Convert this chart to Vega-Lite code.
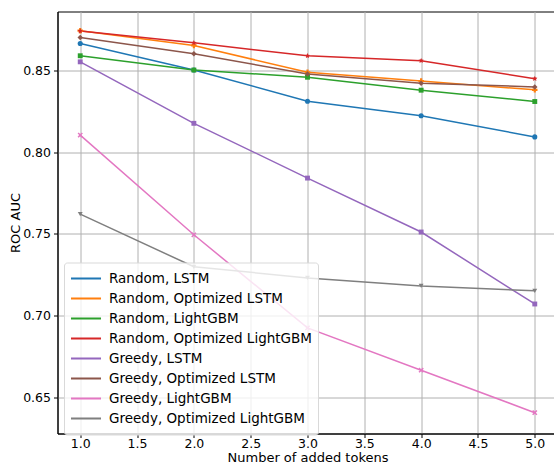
{
  "$schema": "https://vega.github.io/schema/vega-lite/v6.json",
  "width": 500,
  "height": 422,
  "autosize": {"type": "none"},
  "padding": {"left": 57.5, "top": 11.5, "right": 0, "bottom": 31.5},
  "background": "white",
  "config": {
    "view": {"stroke": "black", "strokeWidth": 1},
    "font": "DejaVu Sans",
    "axis": {
      "grid": true,
      "gridColor": "#b0b0b0",
      "gridWidth": 1,
      "domainColor": "black",
      "domainWidth": 1,
      "tickColor": "black",
      "tickSize": 4,
      "labelColor": "black",
      "labelFontSize": 12.5,
      "labelFont": "DejaVu Sans",
      "titleFont": "DejaVu Sans",
      "titleFontSize": 13,
      "titleFontWeight": "normal",
      "titleColor": "black",
      "labelPadding": 2
    }
  },
  "data": {
    "values": [
      {"series": "Random, LSTM", "x": 1, "y": 0.8662},
      {"series": "Random, LSTM", "x": 2, "y": 0.8500},
      {"series": "Random, LSTM", "x": 3, "y": 0.8310},
      {"series": "Random, LSTM", "x": 4, "y": 0.8221},
      {"series": "Random, LSTM", "x": 5, "y": 0.8092},
      {"series": "Random, Optimized LSTM", "x": 1, "y": 0.8740},
      {"series": "Random, Optimized LSTM", "x": 2, "y": 0.8650},
      {"series": "Random, Optimized LSTM", "x": 3, "y": 0.8486},
      {"series": "Random, Optimized LSTM", "x": 4, "y": 0.8433},
      {"series": "Random, Optimized LSTM", "x": 5, "y": 0.8379},
      {"series": "Random, LightGBM", "x": 1, "y": 0.8587},
      {"series": "Random, LightGBM", "x": 2, "y": 0.8500},
      {"series": "Random, LightGBM", "x": 3, "y": 0.8456},
      {"series": "Random, LightGBM", "x": 4, "y": 0.8377},
      {"series": "Random, LightGBM", "x": 5, "y": 0.8308},
      {"series": "Random, Optimized LightGBM", "x": 1, "y": 0.8738},
      {"series": "Random, Optimized LightGBM", "x": 2, "y": 0.8666},
      {"series": "Random, Optimized LightGBM", "x": 3, "y": 0.8587},
      {"series": "Random, Optimized LightGBM", "x": 4, "y": 0.8557},
      {"series": "Random, Optimized LightGBM", "x": 5, "y": 0.8447},
      {"series": "Greedy, LSTM", "x": 1, "y": 0.8550},
      {"series": "Greedy, LSTM", "x": 2, "y": 0.8175},
      {"series": "Greedy, LSTM", "x": 3, "y": 0.7841},
      {"series": "Greedy, LSTM", "x": 4, "y": 0.7512},
      {"series": "Greedy, LSTM", "x": 5, "y": 0.7073},
      {"series": "Greedy, Optimized LSTM", "x": 1, "y": 0.8698},
      {"series": "Greedy, Optimized LSTM", "x": 2, "y": 0.8599},
      {"series": "Greedy, Optimized LSTM", "x": 3, "y": 0.8476},
      {"series": "Greedy, Optimized LSTM", "x": 4, "y": 0.8420},
      {"series": "Greedy, Optimized LSTM", "x": 5, "y": 0.8397},
      {"series": "Greedy, LightGBM", "x": 1, "y": 0.8103},
      {"series": "Greedy, LightGBM", "x": 2, "y": 0.7495},
      {"series": "Greedy, LightGBM", "x": 3, "y": 0.6927},
      {"series": "Greedy, LightGBM", "x": 4, "y": 0.6669},
      {"series": "Greedy, LightGBM", "x": 5, "y": 0.6410},
      {"series": "Greedy, Optimized LightGBM", "x": 1, "y": 0.7621},
      {"series": "Greedy, Optimized LightGBM", "x": 2, "y": 0.7300},
      {"series": "Greedy, Optimized LightGBM", "x": 3, "y": 0.7232},
      {"series": "Greedy, Optimized LightGBM", "x": 4, "y": 0.7183},
      {"series": "Greedy, Optimized LightGBM", "x": 5, "y": 0.7153}
    ]
  },
  "encoding": {
    "x": {
      "field": "x",
      "type": "quantitative",
      "scale": {"domain": [0.8, 5.2], "nice": false, "zero": false},
      "axis": {"values": [1, 1.5, 2, 2.5, 3, 3.5, 4, 4.5, 5], "format": ".1f", "title": "Number of added tokens", "titlePadding": 1, "labelPadding": 0}
    },
    "y": {
      "field": "y",
      "type": "quantitative",
      "scale": {"domain": [0.6283, 0.8857], "nice": false, "zero": false},
      "axis": {"values": [0.65, 0.7, 0.75, 0.8, 0.85], "format": ".2f", "title": "ROC AUC", "titlePadding": 0, "labelPadding": 3}
    },
    "color": {
      "field": "series",
      "type": "nominal",
      "scale": {
        "domain": ["Random, LSTM", "Random, Optimized LSTM", "Random, LightGBM", "Random, Optimized LightGBM", "Greedy, LSTM", "Greedy, Optimized LSTM", "Greedy, LightGBM", "Greedy, Optimized LightGBM"],
        "range": ["#1f77b4", "#ff7f0e", "#2ca02c", "#d62728", "#9467bd", "#8c564b", "#e377c2", "#7f7f7f"]
      },
      "legend": {
        "title": null,
        "orient": "none",
        "legendX": 6.5,
        "legendY": 251,
        "symbolType": "stroke",
        "symbolSize": 900,
        "symbolStrokeWidth": 2,
        "labelFontSize": 13.5,
        "labelFont": "DejaVu Sans",
        "labelColor": "black",
        "labelOffset": 7,
        "labelLimit": 400,
        "clipHeight": 20,
        "rowPadding": 0,
        "padding": 6,
        "fillColor": "rgba(255,255,255,0.8)",
        "strokeColor": "#d9d9d9",
        "cornerRadius": 3
      }
    }
  },
  "layer": [
    {"mark": {"type": "line", "strokeWidth": 1.5}},
    {
      "transform": [{"filter": {"field": "series", "oneOf": ["Random, LSTM"]}}],
      "mark": {"type": "point", "filled": true, "size": 26, "opacity": 1, "shape": "circle"}
    },
    {
      "transform": [{"filter": {"field": "series", "oneOf": ["Random, Optimized LSTM"]}}],
      "mark": {"type": "point", "filled": true, "size": 30, "opacity": 1, "shape": "cross"}
    },
    {
      "transform": [{"filter": {"field": "series", "oneOf": ["Random, LightGBM", "Greedy, LSTM"]}}],
      "mark": {"type": "point", "filled": true, "size": 24, "opacity": 1, "shape": "square"}
    },
    {
      "transform": [{"filter": {"field": "series", "oneOf": ["Random, Optimized LightGBM"]}}],
      "mark": {"type": "point", "filled": true, "size": 30, "opacity": 1, "shape": "M0,-1L0.29,-0.4L0.95,-0.31L0.48,0.15L0.59,0.81L0,0.5L-0.59,0.81L-0.48,0.15L-0.95,-0.31L-0.29,-0.4Z"}
    },
    {
      "transform": [{"filter": {"field": "series", "oneOf": ["Greedy, Optimized LSTM"]}}],
      "mark": {"type": "point", "filled": true, "size": 30, "opacity": 1, "shape": "diamond"}
    },
    {
      "transform": [{"filter": {"field": "series", "oneOf": ["Greedy, LightGBM"]}}],
      "mark": {"type": "point", "filled": true, "size": 28, "opacity": 1, "shape": "M-1,-0.6L-0.6,-1L0,-0.4L0.6,-1L1,-0.6L0.4,0L1,0.6L0.6,1L0,0.4L-0.6,1L-1,0.6L-0.4,0Z"}
    },
    {
      "transform": [{"filter": {"field": "series", "oneOf": ["Greedy, Optimized LightGBM"]}}],
      "mark": {"type": "point", "filled": true, "size": 24, "opacity": 1, "shape": "triangle-down"}
    }
  ]
}
